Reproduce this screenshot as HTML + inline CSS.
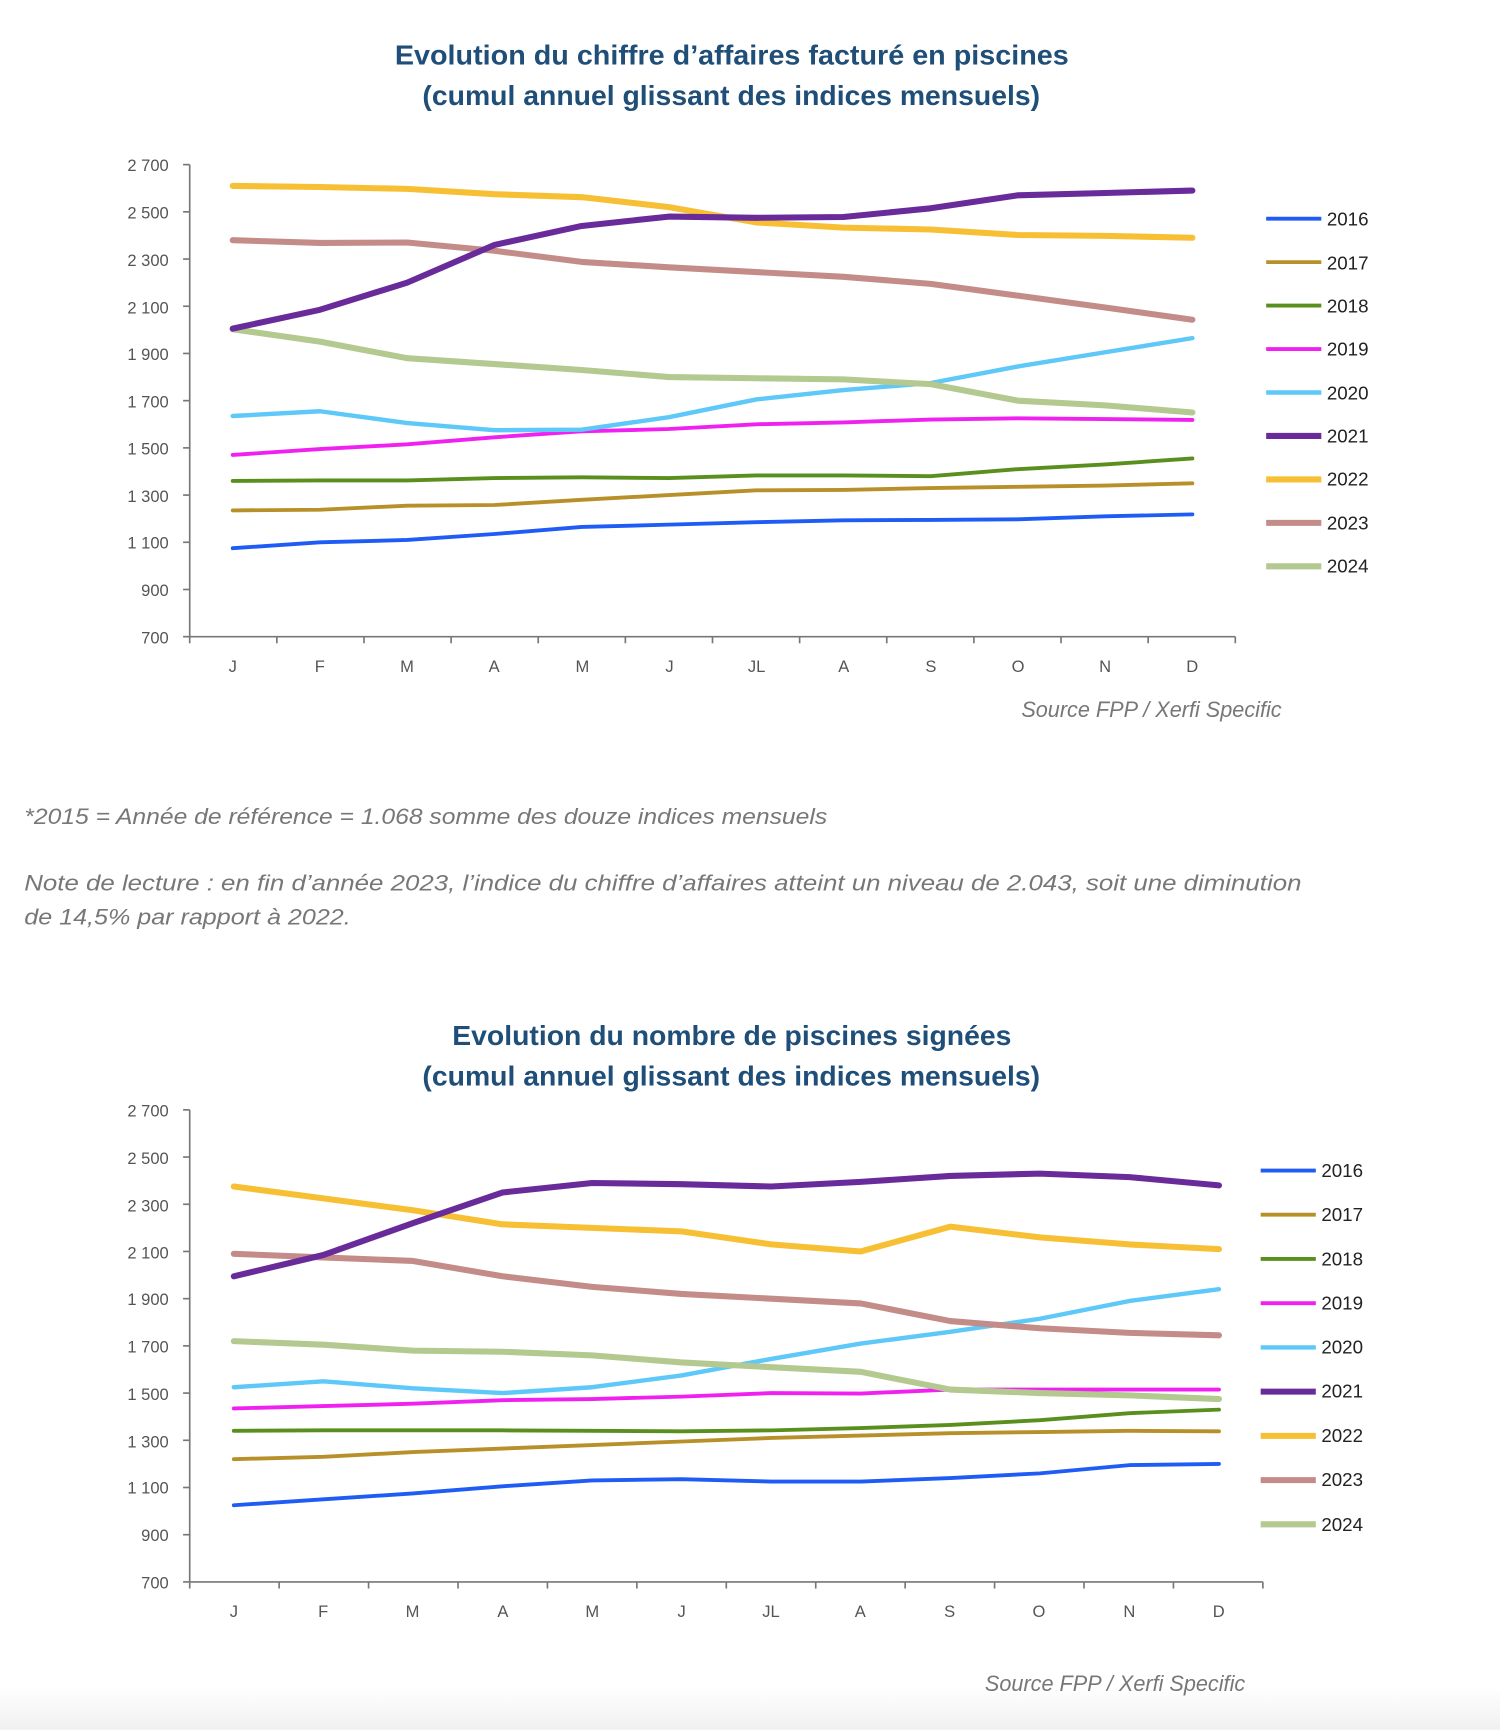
<!DOCTYPE html>
<html><head><meta charset="utf-8"><style>
html,body{margin:0;padding:0;background:#fff;}
svg{display:block;}
.t{font-family:"Liberation Sans",sans-serif;font-weight:bold;fill:#1f4e79;font-size:25px;}
.yl{font-family:"Liberation Sans",sans-serif;font-size:15px;fill:#555;text-anchor:end;}
.ml{font-family:"Liberation Sans",sans-serif;font-size:15px;fill:#555;text-anchor:middle;}
.lg{font-family:"Liberation Sans",sans-serif;font-size:17px;fill:#222;}
.it{font-family:"Liberation Sans",sans-serif;font-style:italic;font-size:20px;fill:#777;}
</style></head><body>
<svg id="s" width="1500" height="1730" viewBox="0 0 1360 1568" xmlns="http://www.w3.org/2000/svg">
<defs><linearGradient id="bg" x1="0" y1="0" x2="0" y2="1"><stop offset="0" stop-color="#fff"/><stop offset="1" stop-color="#f0f0f0"/></linearGradient></defs>
<rect width="1360" height="1568" fill="#fff"/>
<rect y="1530" width="1360" height="38" fill="url(#bg)"/>
<text class="t" x="358" y="58" textLength="611" lengthAdjust="spacingAndGlyphs">Evolution du chiffre d’affaires facturé en piscines</text>
<text class="t" x="383" y="95" textLength="560" lengthAdjust="spacingAndGlyphs">(cumul annuel glissant des indices mensuels)</text>
<text class="t" x="410" y="947" textLength="507" lengthAdjust="spacingAndGlyphs">Evolution du nombre de piscines signées</text>
<text class="t" x="383" y="984" textLength="560" lengthAdjust="spacingAndGlyphs">(cumul annuel glissant des indices mensuels)</text>
<g id="c1"></g><g id="c2"></g>
<g class="yl">
<text x="153" y="155">2 700</text><text x="153" y="198">2 500</text><text x="153" y="241">2 300</text><text x="153" y="284">2 100</text><text x="153" y="326">1 900</text><text x="153" y="369">1 700</text><text x="153" y="412">1 500</text><text x="153" y="455">1 300</text><text x="153" y="497">1 100</text><text x="153" y="540">900</text><text x="153" y="583">700</text>
<text x="153" y="1012">2 700</text><text x="153" y="1055">2 500</text><text x="153" y="1098">2 300</text><text x="153" y="1141">2 100</text><text x="153" y="1183">1 900</text><text x="153" y="1226">1 700</text><text x="153" y="1269">1 500</text><text x="153" y="1312">1 300</text><text x="153" y="1354">1 100</text><text x="153" y="1397">900</text><text x="153" y="1440">700</text>
</g>
<g class="ml">
<text x="211" y="609">J</text><text x="290" y="609">F</text><text x="369" y="609">M</text><text x="448" y="609">A</text><text x="528" y="609">M</text><text x="607" y="609">J</text><text x="686" y="609">JL</text><text x="765" y="609">A</text><text x="844" y="609">S</text><text x="923" y="609">O</text><text x="1002" y="609">N</text><text x="1081" y="609">D</text>
<text x="212" y="1466">J</text><text x="293" y="1466">F</text><text x="374" y="1466">M</text><text x="456" y="1466">A</text><text x="537" y="1466">M</text><text x="618" y="1466">J</text><text x="699" y="1466">JL</text><text x="780" y="1466">A</text><text x="861" y="1466">S</text><text x="942" y="1466">O</text><text x="1024" y="1466">N</text><text x="1105" y="1466">D</text>
</g>
<g class="lg">
<text x="1203" y="204">2016</text><text x="1203" y="244">2017</text><text x="1203" y="283">2018</text><text x="1203" y="322">2019</text><text x="1203" y="362">2020</text><text x="1203" y="401">2021</text><text x="1203" y="440">2022</text><text x="1203" y="480">2023</text><text x="1203" y="519">2024</text>
<text x="1198" y="1067">2016</text><text x="1198" y="1107">2017</text><text x="1198" y="1147">2018</text><text x="1198" y="1187">2019</text><text x="1198" y="1227">2020</text><text x="1198" y="1267">2021</text><text x="1198" y="1307">2022</text><text x="1198" y="1347">2023</text><text x="1198" y="1388">2024</text>
</g>
<text class="it" x="926" y="650" textLength="236" lengthAdjust="spacingAndGlyphs">Source FPP / Xerfi Specific</text>
<text class="it" x="893" y="1533" textLength="236" lengthAdjust="spacingAndGlyphs">Source FPP / Xerfi Specific</text>
<text class="it" x="22" y="747" textLength="728" lengthAdjust="spacingAndGlyphs">*2015 = Année de référence = 1.068 somme des douze indices mensuels</text>
<text class="it" x="22" y="807" textLength="1158" lengthAdjust="spacingAndGlyphs">Note de lecture : en fin d’année 2023, l’indice du chiffre d’affaires atteint un niveau de 2.043, soit une diminution</text>
<text class="it" x="22" y="838" textLength="296" lengthAdjust="spacingAndGlyphs">de 14,5% par rapport à 2022.</text>
</svg>
<script>
var cols=["#1f5cf5","#b8902a","#5a8f1e","#f020f0","#5ec8f8","#6a2b9a","#f7c034","#c48c88","#b3c98f"];
var wid=[3.5,3.5,3.5,3.5,4,5.5,5.5,5.5,5.5];
var d1=[[1075,1100,1110,1135,1165,1175,1185,1193,1195,1197,1210,1218],
[1235,1238,1255,1258,1280,1300,1320,1322,1330,1335,1340,1350],
[1360,1362,1362,1372,1375,1372,1383,1383,1380,1410,1430,1455],
[1470,1495,1515,1545,1570,1580,1600,1608,1620,1625,1622,1618],
[1635,1655,1605,1575,1577,1630,1705,1745,1775,1845,1905,1965],
[2005,2085,2200,2360,2440,2480,2475,2478,2515,2570,2580,2590],
[2610,2605,2597,2575,2562,2520,2455,2433,2425,2402,2398,2390],
[2380,2368,2370,2335,2288,2265,2245,2225,2195,2145,2095,2043],
[2003,1950,1880,1855,1830,1800,1795,1790,1770,1700,1680,1650]];
var d2=[[1025,1050,1075,1105,1130,1135,1125,1125,1140,1160,1195,1200],
[1220,1230,1250,1265,1280,1295,1310,1320,1330,1335,1340,1338],
[1340,1342,1342,1342,1340,1338,1342,1352,1365,1385,1415,1430],
[1435,1445,1455,1470,1475,1485,1500,1498,1515,1515,1515,1515],
[1525,1550,1520,1500,1525,1575,1645,1710,1760,1815,1890,1940],
[1995,2085,2220,2350,2390,2385,2375,2395,2420,2430,2415,2380],
[2375,2325,2275,2215,2200,2185,2130,2100,2205,2160,2130,2110],
[2090,2075,2060,1995,1950,1920,1900,1880,1805,1775,1755,1745],
[1720,1705,1680,1675,1660,1630,1610,1590,1515,1500,1490,1475]];
var NS="http://www.w3.org/2000/svg";
function el(g,n,a){var e=document.createElementNS(NS,n);for(var k in a)e.setAttribute(k,a[k]);g.appendChild(e);}
function chart(id,data,top,bot,x0,xend,j,sp,lx,ly0,lys){
 var g=document.getElementById(id);
 el(g,"line",{x1:172,y1:top,x2:172,y2:bot,stroke:"#777","stroke-width":1.5});
 el(g,"line",{x1:172,y1:bot,x2:xend,y2:bot,stroke:"#777","stroke-width":1.5});
 for(var i=0;i<=10;i++){var y=top+(bot-top)*i/10;el(g,"line",{x1:166,y1:y,x2:172,y2:y,stroke:"#777","stroke-width":1.5});}
 for(var i=0;i<=12;i++){var x=172+(xend-172)*i/12;el(g,"line",{x1:x,y1:bot,x2:x,y2:bot+6,stroke:"#777","stroke-width":1.5});}
 var order=[0,1,2,3,4,8,7,6,5];
 order.forEach(function(s){var p=data[s].map(function(v,i){return (j+sp*i).toFixed(1)+","+(bot-(v-700)/2000*(bot-top)).toFixed(1);}).join(" ");
  el(g,"polyline",{points:p,fill:"none",stroke:cols[s],"stroke-width":wid[s],"stroke-linejoin":"round","stroke-linecap":"round"});});
 for(var s=0;s<9;s++){var y=ly0+lys*s;el(g,"line",{x1:lx,y1:y,x2:lx+50,y2:y,stroke:cols[s],"stroke-width":wid[s]});}
}
chart("c1",d1,149,577,172,1120,211,79.1,1148,198,39.4);
chart("c2",d2,1006,1434,172,1145,212,81.2,1143,1061,40.1);
</script>
</body></html>
